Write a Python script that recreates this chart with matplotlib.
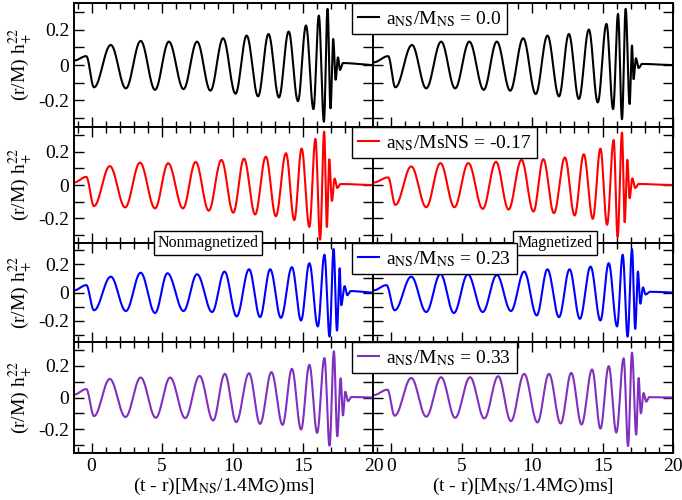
import numpy as np
import matplotlib
matplotlib.use('Agg')
import matplotlib.pyplot as plt
from matplotlib.lines import Line2D
from matplotlib.ticker import MultipleLocator

plt.rcParams['font.family'] = ['Liberation Serif', 'DejaVu Serif']
plt.rcParams['mathtext.fontset'] = 'stix'
plt.rcParams['axes.unicode_minus'] = False

# turning points (time, strain), one pair per panel
t_a00_nm = [-1.25, -0.38, 0.17, 1.36, 2.43, 3.48, 4.50, 5.48, 6.52, 7.48, 8.43, 9.33, 10.21, 11.00, 11.81, 12.55, 13.29, 13.98, 14.64, 15.21, 15.74, 16.12, 16.48, 16.74, 16.95, 17.14, 17.31, 17.48, 17.62, 17.83, 20.0]
h_a00_nm = [0.025, 0.050, -0.126, 0.113, -0.132, 0.136, -0.140, 0.132, -0.136, 0.132, -0.145, 0.151, -0.162, 0.166, -0.177, 0.175, -0.183, 0.189, -0.204, 0.223, -0.249, 0.279, -0.320, 0.317, -0.245, 0.147, -0.083, 0.043, -0.028, 0.011, 0.0]
t_a00_m = [-1.25, -0.21, 0.30, 1.48, 2.49, 3.55, 4.54, 5.55, 6.57, 7.50, 8.45, 9.37, 10.26, 11.09, 11.91, 12.61, 13.32, 14.03, 14.66, 15.28, 15.75, 16.10, 16.38, 16.64, 16.92, 17.09, 17.20, 17.37, 17.56, 17.80, 20.0]
h_a00_m = [0.015, 0.050, -0.126, 0.113, -0.132, 0.132, -0.132, 0.132, -0.140, 0.132, -0.145, 0.151, -0.164, 0.166, -0.177, 0.175, -0.192, 0.200, -0.211, 0.232, -0.249, 0.289, -0.306, 0.317, -0.220, 0.110, -0.080, 0.038, -0.017, 0.006, 0.0]

t_am017_nm = [-1.25, -0.38, 0.17, 1.29, 2.38, 3.43, 4.50, 5.43, 6.48, 7.38, 8.31, 9.21, 10.05, 10.81, 11.60, 12.36, 13.07, 13.79, 14.38, 14.90, 15.45, 15.88, 16.21, 16.50, 16.69, 16.86, 17.05, 17.24, 17.43, 17.67, 20.0]
h_am017_nm = [0.015, 0.049, -0.127, 0.114, -0.135, 0.135, -0.141, 0.131, -0.141, 0.139, -0.155, 0.151, -0.167, 0.159, -0.178, 0.171, -0.188, 0.192, -0.212, 0.220, -0.253, 0.278, -0.330, 0.322, -0.253, 0.155, -0.096, 0.039, -0.018, 0.006, 0.0]
t_am017_m = [-1.25, -0.21, 0.30, 1.43, 2.49, 3.50, 4.49, 5.48, 6.50, 7.44, 8.33, 9.25, 10.10, 10.80, 11.55, 12.33, 13.02, 13.67, 14.31, 14.85, 15.32, 15.79, 16.07, 16.38, 16.57, 16.76, 16.92, 17.11, 17.32, 17.56, 20.0]
h_am017_m = [0.015, 0.046, -0.120, 0.112, -0.134, 0.132, -0.134, 0.132, -0.144, 0.140, -0.148, 0.152, -0.160, 0.156, -0.170, 0.166, -0.184, 0.186, -0.204, 0.220, -0.240, 0.272, -0.314, 0.316, -0.224, 0.152, -0.080, 0.040, -0.018, 0.006, 0.0]

t_a023_nm = [-1.25, -0.38, 0.17, 1.36, 2.43, 3.48, 4.50, 5.38, 6.52, 7.48, 8.55, 9.43, 10.29, 11.17, 11.95, 12.67, 13.43, 14.21, 14.86, 15.45, 16.05, 16.52, 16.88, 17.17, 17.41, 17.60, 17.71, 17.95, 18.14, 18.38, 20.0]
h_a023_nm = [0.015, 0.052, -0.126, 0.112, -0.131, 0.140, -0.145, 0.136, -0.131, 0.129, -0.138, 0.148, -0.169, 0.164, -0.174, 0.164, -0.179, 0.179, -0.198, 0.207, -0.240, 0.267, -0.312, 0.307, -0.269, 0.171, -0.090, 0.045, -0.019, 0.010, 0.0]
t_a023_m = [-1.25, -0.33, 0.25, 1.43, 2.49, 3.50, 4.45, 5.44, 6.50, 7.50, 8.50, 9.44, 10.33, 11.09, 11.91, 12.66, 13.39, 14.15, 14.85, 15.44, 16.03, 16.43, 16.78, 17.09, 17.32, 17.51, 17.68, 17.87, 18.05, 18.38, 20.0]
h_a023_m = [0.015, 0.052, -0.126, 0.112, -0.138, 0.131, -0.145, 0.129, -0.138, 0.124, -0.131, 0.148, -0.162, 0.164, -0.174, 0.164, -0.186, 0.183, -0.198, 0.207, -0.240, 0.267, -0.312, 0.307, -0.257, 0.148, -0.079, 0.036, -0.014, 0.005, 0.0]

t_a033_nm = [-1.25, -0.38, 0.17, 1.29, 2.40, 3.48, 4.55, 5.57, 6.64, 7.66, 8.62, 9.45, 10.26, 11.17, 11.95, 12.76, 13.55, 14.21, 14.86, 15.45, 16.00, 16.52, 16.88, 17.19, 17.43, 17.67, 17.83, 18.00, 18.19, 18.43, 20.0]
h_a033_nm = [0.018, 0.053, -0.117, 0.117, -0.123, 0.126, -0.128, 0.126, -0.130, 0.136, -0.145, 0.149, -0.155, 0.153, -0.166, 0.160, -0.172, 0.181, -0.202, 0.206, -0.223, 0.249, -0.304, 0.291, -0.245, 0.121, -0.113, 0.036, -0.023, 0.003, 0.0]
t_a033_m = [-1.25, -0.26, 0.25, 1.43, 2.49, 3.55, 4.54, 5.60, 6.61, 7.60, 8.50, 9.44, 10.38, 11.20, 12.03, 12.78, 13.51, 14.26, 14.85, 15.44, 15.98, 16.50, 16.81, 17.09, 17.39, 17.56, 17.72, 17.91, 18.10, 18.31, 20.0]
h_a033_m = [0.015, 0.049, -0.115, 0.123, -0.121, 0.128, -0.128, 0.128, -0.132, 0.134, -0.149, 0.149, -0.157, 0.149, -0.164, 0.155, -0.170, 0.177, -0.196, 0.198, -0.221, 0.247, -0.306, 0.283, -0.234, 0.123, -0.100, 0.028, -0.026, 0.002, 0.0]

rows = [
    ((t_a00_nm, h_a00_nm), (t_a00_m, h_a00_m), 'black', r'a$_{\mathrm{NS}}$/M$_{\mathrm{NS}}$ = 0.0'),
    ((t_am017_nm, h_am017_nm), (t_am017_m, h_am017_m), 'red', r'a$_{\mathrm{NS}}$/MsNS = -0.17'),
    ((t_a023_nm, h_a023_nm), (t_a023_m, h_a023_m), 'blue', r'a$_{\mathrm{NS}}$/M$_{\mathrm{NS}}$ = 0.23'),
    ((t_a033_nm, h_a033_nm), (t_a033_m, h_a033_m), '#8030c0', r'a$_{\mathrm{NS}}$/M$_{\mathrm{NS}}$ = 0.33'),
]


def smooth_wave(t, h, n=40):
    # half-cosine strokes between successive turning points
    xs, ys = [], []
    for i in range(len(t) - 1):
        s = np.linspace(0, 1, n, endpoint=False)
        w = (1 - np.cos(np.pi * s)) / 2
        xs.append(t[i] + (t[i + 1] - t[i]) * s)
        ys.append(h[i] + (h[i + 1] - h[i]) * w)
    xs.append([t[-1]])
    ys.append([h[-1]])
    return np.concatenate(xs), np.concatenate(ys)


fig, axes = plt.subplots(4, 2, figsize=(6.82, 5.0), dpi=100, sharex=True, sharey=True,
                         gridspec_kw={'height_ratios': [124, 116, 99, 111]})
fig.subplots_adjust(left=74 / 682, right=673 / 682, top=1 - 3 / 500, bottom=1 - 453 / 500,
                    wspace=0, hspace=0)

fs = 14
for r, (left, right, color, label) in enumerate(rows):
    for c, (t, h) in enumerate([left, right]):
        ax = axes[r, c]
        x, y = smooth_wave(np.array(t), np.array(h))
        ax.plot(x, y, color=color, lw=1.5)
        ax.set_xlim(-1.25, 20)
        ax.set_ylim(-0.35, 0.35)
        ax.xaxis.set_major_locator(MultipleLocator(5))
        ax.xaxis.set_minor_locator(MultipleLocator(1))
        ax.set_yticks([-0.2, 0, 0.2], ['-0.2', '0', '0.2'])
        ax.yaxis.set_minor_locator(MultipleLocator(0.1))
        ax.tick_params(which='both', direction='in', top=True, right=True,
                       labelsize=fs, width=1.0)
        ax.tick_params(which='major', length=7)
        ax.tick_params(axis='x', which='minor', length=4)
        ax.tick_params(axis='y', which='minor', length=7)
        for sp in ax.spines.values():
            sp.set_linewidth(1.4)
        if c == 0:
            ax.set_ylabel(r'(r/M) h$_{+}^{22}$', fontsize=fs, labelpad=2)
        if r == 3:
            ax.set_xlabel(r'(t - r)[M$_{\mathrm{NS}}$/1.4M$\odot$)ms]', fontsize=fs, labelpad=1)

    top = axes[r, 0].get_position().y1
    leg = fig.legend(handles=[Line2D([], [], color=color, lw=1.5)], labels=[label],
                     loc='upper left', bbox_to_anchor=(352 / 682, top),
                     bbox_transform=fig.transFigure, borderaxespad=0, fancybox=False,
                     edgecolor='black', framealpha=1, fontsize=fs, handlelength=1.1,
                     handletextpad=0.35, borderpad=0.3)
    leg.get_frame().set_linewidth(1.0)

ybox = axes[1, 0].get_position().y0
box = dict(boxstyle='square,pad=0.25', facecolor='white', edgecolor='black', lw=1.0)
fig.text(208 / 682, ybox, 'Nonmagnetized', fontsize=11.5, ha='center', va='center', bbox=box)
fig.text(555 / 682, ybox, 'Magnetized', fontsize=11.5, ha='center', va='center', bbox=box)

fig.savefig('out.png', dpi=100)
